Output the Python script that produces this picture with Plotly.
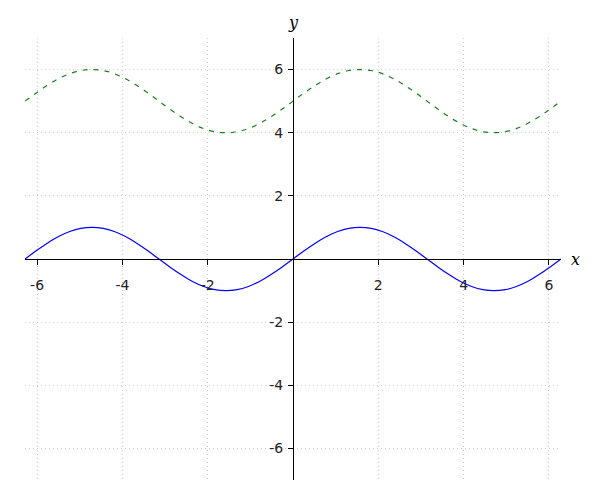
import plotly.graph_objects as go

# x positions (radians)
x_vals = [-6.283, -6.021, -5.760, -5.498, -5.236, -4.974, -4.712, -4.451, -4.189, -3.927,
          -3.665, -3.403, -3.142, -2.880, -2.618, -2.356, -2.094, -1.833, -1.571, -1.309,
          -1.047, -0.785, -0.524, -0.262, 0.0, 0.262, 0.524, 0.785, 1.047, 1.309,
          1.571, 1.833, 2.094, 2.356, 2.618, 2.880, 3.142, 3.403, 3.665, 3.927,
          4.189, 4.451, 4.712, 4.974, 5.236, 5.498, 5.760, 6.021, 6.283]

# lower (solid blue) curve
y_solid = [0.0, 0.26, 0.5, 0.71, 0.87, 0.97, 1.0, 0.97, 0.87, 0.71,
           0.5, 0.26, 0.0, -0.26, -0.5, -0.71, -0.87, -0.97, -1.0, -0.97,
           -0.87, -0.71, -0.5, -0.26, 0.0, 0.26, 0.5, 0.71, 0.87, 0.97,
           1.0, 0.97, 0.87, 0.71, 0.5, 0.26, 0.0, -0.26, -0.5, -0.71,
           -0.87, -0.97, -1.0, -0.97, -0.87, -0.71, -0.5, -0.26, 0.0]

# upper (dashed green) curve
y_dashed = [5.0, 5.26, 5.5, 5.71, 5.87, 5.97, 6.0, 5.97, 5.87, 5.71,
            5.5, 5.26, 5.0, 4.74, 4.5, 4.29, 4.13, 4.03, 4.0, 4.03,
            4.13, 4.29, 4.5, 4.74, 5.0, 5.26, 5.5, 5.71, 5.87, 5.97,
            6.0, 5.97, 5.87, 5.71, 5.5, 5.26, 5.0, 4.74, 4.5, 4.29,
            4.13, 4.03, 4.0, 4.03, 4.13, 4.29, 4.5, 4.74, 5.0]

tick_vals = [-6, -4, -2, 2, 4, 6]
tick_text = ["-6", "-4", "-2", "2", "4", "6"]

fig = go.Figure()
fig.add_trace(go.Scatter(x=x_vals, y=y_dashed, mode="lines",
                         line=dict(color="#1a7f1a", width=1.2, dash="5px,6px", shape="spline"),
                         showlegend=False, hoverinfo="skip"))
fig.add_trace(go.Scatter(x=x_vals, y=y_solid, mode="lines",
                         line=dict(color="#0000ff", width=1.2, shape="spline"),
                         showlegend=False, hoverinfo="skip"))

font = dict(family="DejaVu Sans", size=14, color="#222222")

# the page body adds an 8px margin, so the figure is sized/margined to compensate
fig.update_layout(
    width=592, height=492,
    margin=dict(l=17, r=39, t=30, b=20),
    paper_bgcolor="white", plot_bgcolor="white",
    font=font,
    xaxis=dict(range=[-6.2832, 6.2832], tickvals=tick_vals, ticktext=tick_text,
               showgrid=True, gridcolor="#cccccc", griddash="1px,3px", gridwidth=1,
               zeroline=False, showline=True, linecolor="black", linewidth=1,
               anchor="free", position=0.5, ticks="outside", ticklen=5,
               tickcolor="black", tickwidth=1, ticklabelstandoff=8,
               tickfont=font, fixedrange=True, automargin=False),
    yaxis=dict(range=[-7, 7], tickvals=tick_vals, ticktext=tick_text,
               showgrid=True, gridcolor="#cccccc", griddash="1px,3px", gridwidth=1,
               zeroline=False, showline=True, linecolor="black", linewidth=1,
               anchor="free", position=0.5, ticks="outside", ticklen=5,
               tickcolor="black", tickwidth=1, ticklabelstandoff=2,
               tickfont=font, fixedrange=True, automargin=False),
    annotations=[
        dict(text="<i>x</i>", xref="paper", yref="y", x=1.0, y=0, xanchor="left",
             yanchor="middle", xshift=8, showarrow=False,
             font=dict(family="DejaVu Serif", size=16, color="black")),
        dict(text="<i>y</i>", xref="x", yref="paper", x=0, y=1.0, xanchor="center",
             yanchor="bottom", yshift=4, showarrow=False,
             font=dict(family="DejaVu Serif", size=16, color="black")),
    ],
)

fig.write_html("out.html")
